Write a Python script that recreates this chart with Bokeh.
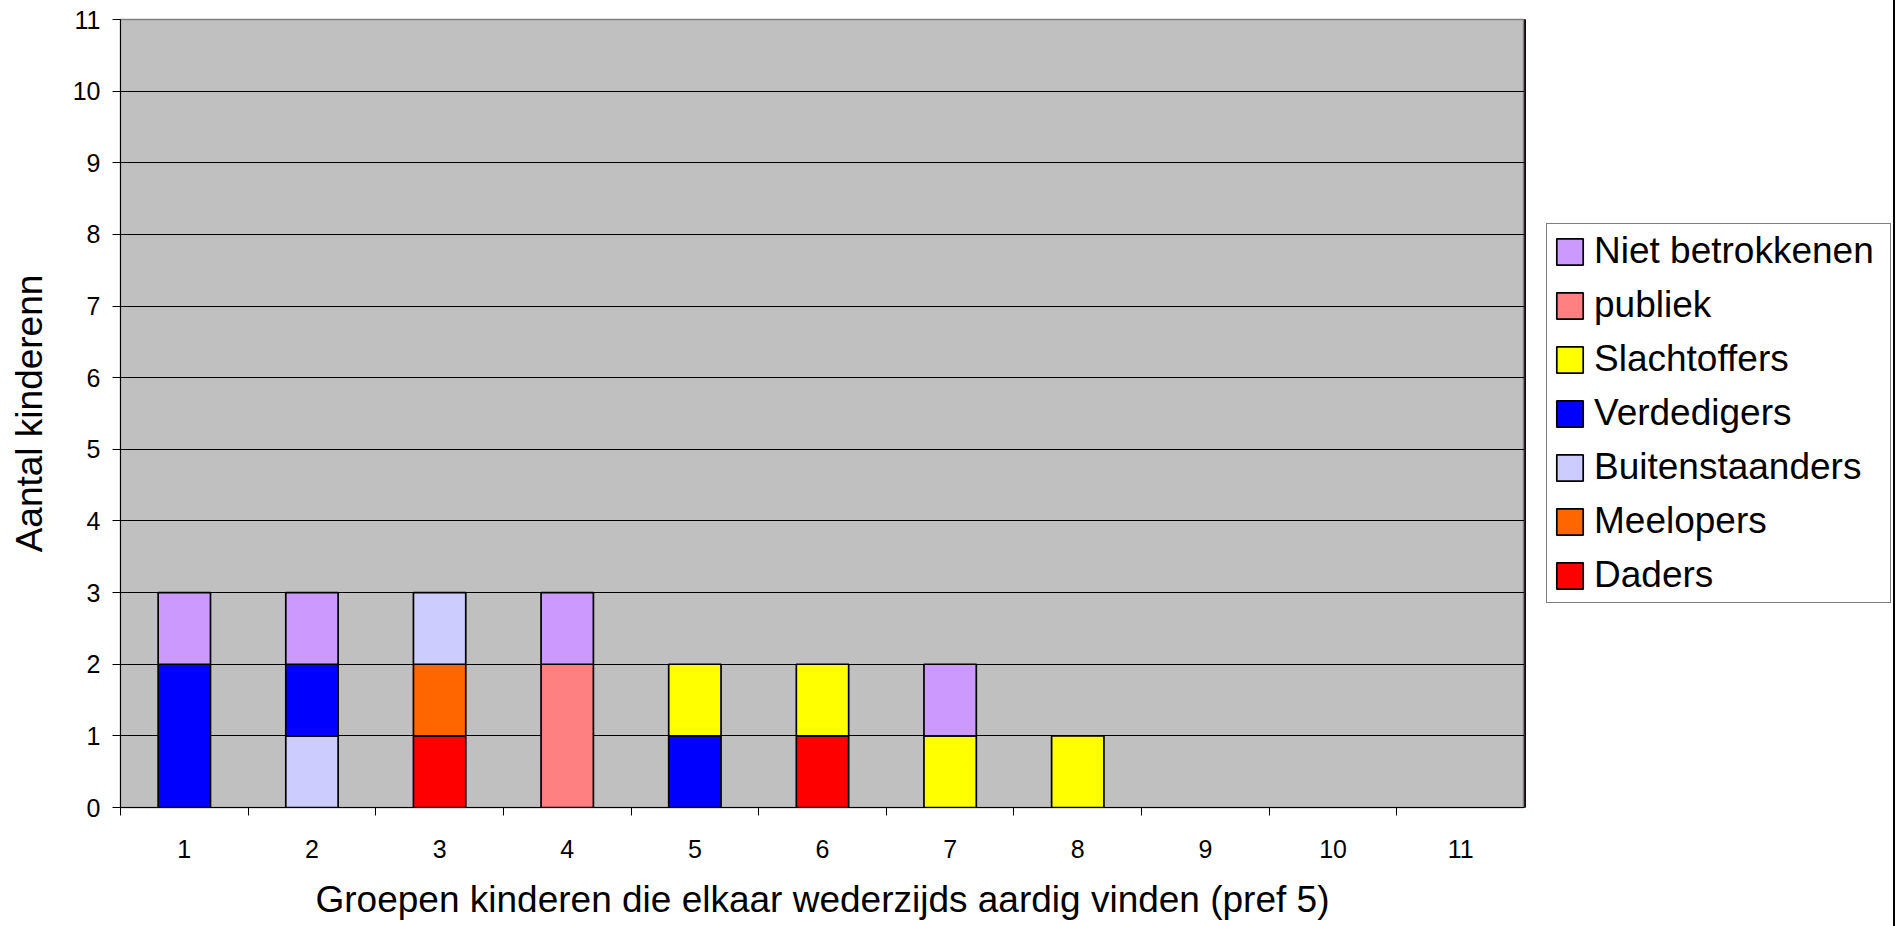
from bokeh.plotting import figure
from bokeh.models import Range1d, FixedTicker, Legend, LegendItem, ColumnDataSource
from bokeh.layouts import row
from bokeh.embed import file_html
from bokeh.resources import INLINE

groups = [1, 2, 3, 4, 5, 6, 7, 8, 9, 10, 11]
series = ["Daders", "Meelopers", "Buitenstaanders", "Verdedigers",
          "Slachtoffers", "publiek", "Niet betrokkenen"]
daders = [0, 0, 1, 0, 0, 1, 0, 0, 0, 0, 0]
meelopers = [0, 0, 1, 0, 0, 0, 0, 0, 0, 0, 0]
buitenstaanders = [0, 1, 1, 0, 0, 0, 0, 0, 0, 0, 0]
verdedigers = [2, 1, 0, 0, 1, 0, 0, 0, 0, 0, 0]
slachtoffers = [0, 0, 0, 0, 1, 1, 1, 1, 0, 0, 0]
publiek = [0, 0, 0, 2, 0, 0, 0, 0, 0, 0, 0]
niet_betrokkenen = [1, 1, 0, 1, 0, 0, 1, 0, 0, 0, 0]
colors = ["#FF0000", "#FF6600", "#CCCCFF", "#0000FF", "#FFFF00", "#FF8080", "#CC99FF"]
y_ticks = list(range(0, 12))

FONT = "Liberation Sans"
H = 926
FRAME_BOTTOM = 807

values = [daders, meelopers, buitenstaanders, verdedigers,
          slachtoffers, publiek, niet_betrokkenen]

p = figure(width=1524, height=H, output_backend="svg", toolbar_location=None,
           x_range=Range1d(0.5, 11.5), y_range=Range1d(0, 11),
           min_border_left=120, min_border_right=0, min_border_top=19,
           min_border_bottom=H - FRAME_BOTTOM)

p.background_fill_color = "#C0C0C0"
p.border_fill_color = "white"
p.outline_line_color = "#808080"
p.outline_line_width = 1.5

# stacked bars: skip empty segments so no stray outlines are drawn
base = [0] * len(groups)
for name, vals, col in zip(series, values, colors):
    xs, bottoms, tops = [], [], []
    for i, v in enumerate(vals):
        if v > 0:
            xs.append(groups[i])
            bottoms.append(base[i])
            tops.append(base[i] + v)
        base[i] += v
    src = ColumnDataSource(dict(x=xs, bottom=bottoms, top=tops))
    p.vbar(x="x", bottom="bottom", top="top", width=0.41, source=src,
           fill_color=col, line_color="black", line_width=1.7)

# axes
p.xgrid.grid_line_color = None
p.ygrid.grid_line_color = "black"
p.ygrid.grid_line_width = 1
p.ygrid.ticker = FixedTicker(ticks=y_ticks)

p.yaxis.ticker = FixedTicker(ticks=y_ticks)
p.yaxis.axis_line_color = "black"
p.yaxis.major_tick_out = 8
p.yaxis.major_tick_in = 0
p.yaxis.minor_tick_line_color = None
p.yaxis.major_label_text_font = FONT
p.yaxis.major_label_text_font_size = "25px"
p.yaxis.major_label_text_color = "black"
p.yaxis.major_label_standoff = 12
p.yaxis.axis_label = "Aantal kinderenn"
p.yaxis.axis_label_text_font = FONT
p.yaxis.axis_label_text_font_size = "37px"
p.yaxis.axis_label_text_font_style = "normal"
p.yaxis.axis_label_text_color = "black"
p.yaxis.axis_label_standoff = 20

p.xaxis.ticker = FixedTicker(ticks=groups, minor_ticks=[g - 0.5 for g in groups] + [11.5])
p.xaxis.axis_line_color = "black"
p.xaxis.major_tick_out = 0
p.xaxis.major_tick_in = 0
p.xaxis.minor_tick_out = 8
p.xaxis.minor_tick_in = 0
p.xaxis.minor_tick_line_color = "black"
p.xaxis.major_label_text_font = FONT
p.xaxis.major_label_text_font_size = "25px"
p.xaxis.major_label_text_color = "black"
p.xaxis.major_label_standoff = 24
p.xaxis.axis_label = "Groepen kinderen die elkaar wederzijds aardig vinden (pref 5)"
p.xaxis.axis_label_text_font = FONT
p.xaxis.axis_label_text_font_size = "37px"
p.xaxis.axis_label_text_font_style = "normal"
p.xaxis.axis_label_text_color = "black"
p.xaxis.axis_label_standoff = 18

# legend panel: a second, axis-less figure to the right of the chart
q = figure(width=371, height=H, output_backend="svg", toolbar_location=None,
           x_range=Range1d(0, 1), y_range=Range1d(0, 1),
           min_border_left=0, min_border_right=0, min_border_top=0,
           min_border_bottom=0)
q.axis.visible = False
q.grid.grid_line_color = None
q.outline_line_color = None
q.background_fill_color = "white"
q.styles = {"border-right": "2px solid black"}

items = []
for name, col in zip(series, colors):
    # off-screen swatch source renderer for the legend entry
    r = q.vbar(x=[-10], top=[1], width=0.5, fill_color=col,
               line_color="black", line_width=1.7)
    items.append(LegendItem(label=name, renderers=[r]))
items.reverse()
legend = Legend(items=items, location=(22, FRAME_BOTTOM - 603), orientation="vertical",
                border_line_color="black", border_line_width=1,
                background_fill_color="white", background_fill_alpha=1,
                padding=6, margin=0, spacing=12, glyph_width=33, glyph_height=33,
                label_standoff=8, label_width=290, label_height=35,
                label_text_font=FONT, label_text_font_size="37px",
                label_text_color="black")
q.add_layout(legend, "center")

layout = row(p, q, spacing=0)
open("out.html", "w").write(file_html(layout, INLINE))
